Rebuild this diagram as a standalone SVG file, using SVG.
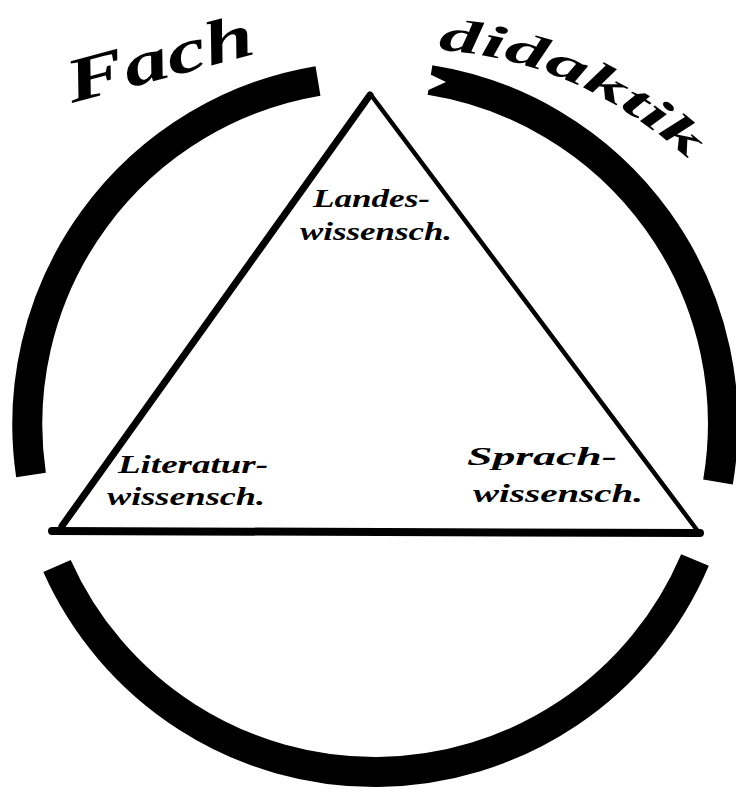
<svg xmlns="http://www.w3.org/2000/svg" width="736" height="790" viewBox="0 0 736 790">
  <style>
    .arc { fill: none; stroke: #000; stroke-width: 30; stroke-linecap: butt; }
    .edge { stroke: #000; stroke-linecap: round; }
    .hand { font-family: "Liberation Serif", "DejaVu Serif", serif; font-style: italic; font-weight: bold; fill: #000; }
    .lbl { font-size: 26px; }
    .title { font-size: 62px; }
  </style>
  <defs>
    <path id="didPath" d="M 438 50 Q 592 60 712 182"/>
  </defs>
  <rect width="736" height="790" fill="#fff"/>

  <g id="ring">
    <path id="arc-fachdidaktik-left" class="arc" d="M 31 475 A 348 348 0 0 1 318 81"/>
    <path id="arc-fachdidaktik-right" class="arc" d="M 430 80 A 348 348 0 0 1 718 482"/>
    <path id="arc-bottom" class="arc" d="M 695 560 A 348 348 0 0 1 57 566"/>
    <polygon points="421,70 446,82 424,92" fill="#fff"/>
  </g>

  <g id="connectors">
    <line class="edge" x1="62" y1="526" x2="370" y2="95" stroke-width="7"/>
    <line class="edge" x1="371" y1="95" x2="697" y2="530" stroke-width="4.5"/>
    <line class="edge" x1="52" y1="531" x2="700" y2="533" stroke-width="8"/>
  </g>

  <g id="title-fach">
    <text class="hand title" x="72" y="103" transform="rotate(-15 72 103)" textLength="192" lengthAdjust="spacingAndGlyphs">Fach</text>
  </g>
  <g id="title-didaktik">
    <text class="hand" font-size="46" textLength="280" lengthAdjust="spacingAndGlyphs"><textPath href="#didPath">didaktik</textPath></text>
  </g>

  <g id="node-landeswissensch">
    <text class="hand lbl" x="313" y="207" textLength="117" lengthAdjust="spacingAndGlyphs">Landes-</text>
    <text class="hand lbl" x="300" y="240" textLength="152" lengthAdjust="spacingAndGlyphs">wissensch.</text>
  </g>
  <g id="node-literaturwissensch">
    <text class="hand lbl" x="118" y="473" textLength="150" lengthAdjust="spacingAndGlyphs">Literatur-</text>
    <text class="hand lbl" x="107" y="505" textLength="158" lengthAdjust="spacingAndGlyphs">wissensch.</text>
  </g>
  <g id="node-sprachwissensch">
    <text class="hand lbl" x="467" y="465" textLength="150" lengthAdjust="spacingAndGlyphs">Sprach-</text>
    <text class="hand lbl" x="473" y="502" textLength="170" lengthAdjust="spacingAndGlyphs">wissensch.</text>
  </g>
</svg>
